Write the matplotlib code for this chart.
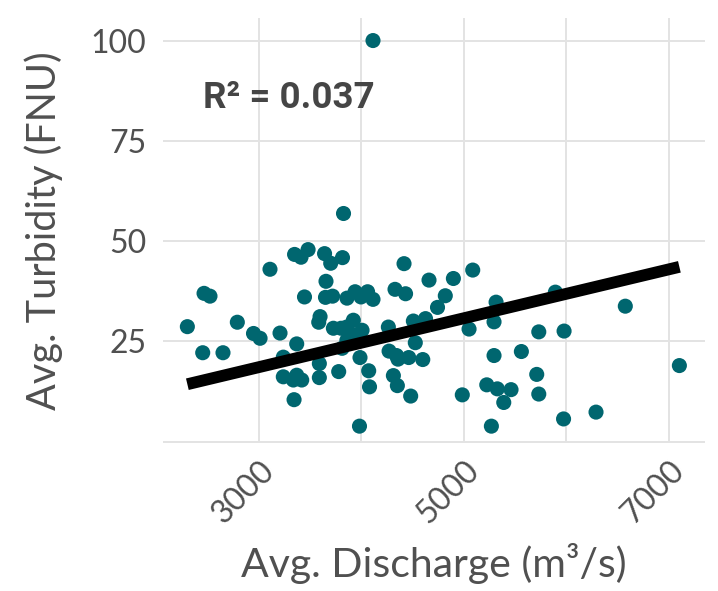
import numpy as np
import matplotlib
matplotlib.use("Agg")
from matplotlib import pyplot as plt

# values (discharge m3/s, turbidity FNU)
discharge = [4113, 3825, 3107, 3347, 3410, 3479, 3640, 3700, 3815, 3654,
             2463, 2521, 3444, 3649, 3718, 3859, 3938, 3996, 4060, 4113,
             2300, 2788, 2946, 3010, 3205, 2450, 2648, 3237, 3368, 3237,
             3335, 3368, 3417, 3342, 3596, 3583, 3726, 3801, 3921, 3856,
             3889, 3957, 4006, 3589, 3589, 3778, 3811, 3986, 4071, 4079,
             3981, 4416, 4660, 4898, 5087, 4328, 4431, 4819, 4743, 4507,
             4626, 4263, 4526, 4270, 4343, 4357, 4462, 4599, 4312, 4351,
             4481, 4985, 5315, 5295, 5051, 5732, 5979, 5894, 5295, 5562,
             5712, 5224, 5327, 5461, 5390, 5732, 5974, 5269, 6577, 7105,
             6291, 3858]
turbidity = [100.0, 56.9, 43.0, 46.7, 46.0, 47.9, 46.9, 44.5, 45.9, 40.0,
             37.0, 36.3, 36.1, 36.0, 36.3, 35.8, 37.4, 36.1, 37.4, 35.5,
             28.7, 29.8, 27.0, 25.8, 27.1, 22.2, 22.2, 21.1, 24.4, 16.2,
             15.4, 16.6, 15.4, 10.5, 31.2, 29.8, 28.3, 28.3, 30.3, 28.6,
             27.0, 26.6, 27.8, 19.5, 16.0, 17.5, 23.3, 21.0, 17.7, 13.7,
             3.9, 44.4, 40.3, 40.7, 42.8, 38.0, 36.9, 36.4, 33.5, 30.1,
             30.7, 28.6, 24.7, 22.6, 21.5, 20.6, 21.0, 20.5, 16.5, 14.0,
             11.4, 11.7, 34.8, 29.9, 28.1, 27.4, 27.6, 37.3, 21.5, 22.5,
             16.8, 14.2, 13.2, 13.0, 9.8, 11.9, 5.7, 3.9, 33.8, 19.0,
             7.4, 25.3]

# fitted line as drawn in the reference
fit_slope = 0.006088
fit_intercept = 0.35
r2_text = "R² = 0.037"

x_ticks = [3000, 5000, 7000]
x_grid = [3000, 4000, 5000, 6000, 7000]
y_ticks = [25, 50, 75, 100]
y_grid = [0, 25, 50, 75, 100]

plt.rcParams['font.family'] = ['Lato', 'DejaVu Sans']

fig = plt.figure(figsize=(7.18, 5.91), dpi=100)
ax = fig.add_axes([0.227, 0.2504, 0.755, 0.719])

for g in x_grid:
    ax.axvline(g, color='#E3E3E3', lw=1.4, zorder=0)
for g in y_grid:
    ax.axhline(g, color='#E3E3E3', lw=1.4, zorder=0)

ax.scatter(discharge, turbidity, s=118, color='#00666F', edgecolors='none', zorder=2)

xs = np.array([min(discharge), max(discharge)])
ax.plot(xs, fit_intercept + fit_slope * xs, color='black', lw=8.5,
        solid_capstyle='butt', zorder=3)

ax.text(3293, 85.6, r2_text, ha='center', va='center', fontsize=26.5,
        fontweight='bold', color='#454545', family=['Roboto', 'DejaVu Sans'])

ax.set_xlim(2062, 7356)
ax.set_ylim(-0.3, 105.6)
ax.set_xticks(x_ticks)
ax.set_yticks(y_ticks)
ax.set_xticklabels([str(t) for t in x_ticks], rotation=45, ha='right',
                   rotation_mode='anchor')
ax.tick_params(axis='both', length=0, labelsize=23, labelcolor='#505050')
ax.tick_params(axis='x', pad=9)
ax.tick_params(axis='y', pad=12)
for s in ax.spines.values():
    s.set_visible(False)

ax.set_xlabel('Avg. Discharge (m³/s)', fontsize=29.5, color='#505050', labelpad=10)
ax.set_ylabel('Avg. Turbidity (FNU)', fontsize=28.5, color='#505050', labelpad=20)

fig.savefig('out.png', dpi=100)
